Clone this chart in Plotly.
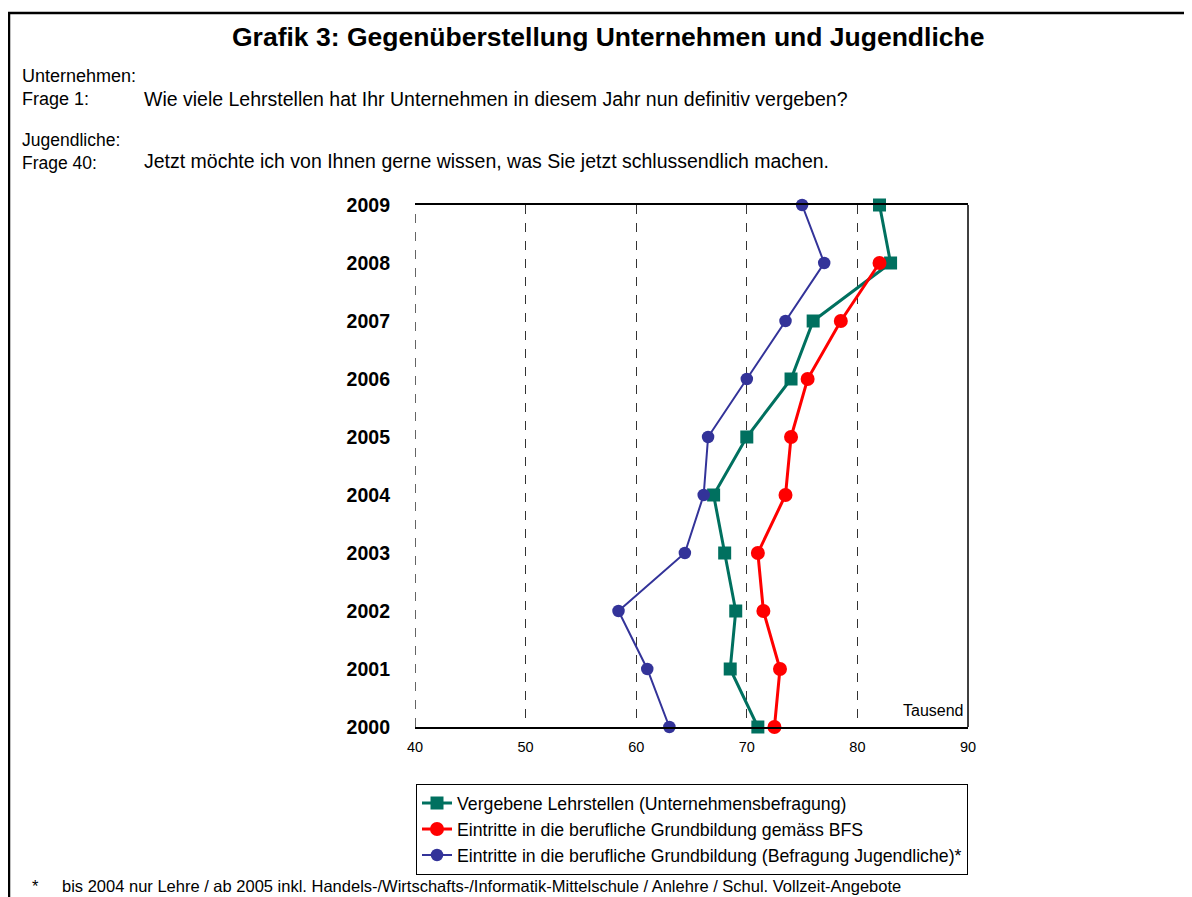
import plotly.graph_objects as go

# data (Tausend)
years = [2000, 2001, 2002, 2003, 2004, 2005, 2006, 2007, 2008, 2009]
lehrstellen_unternehmen = [71.0, 68.5, 69.0, 68.0, 67.0, 70.0, 74.0, 76.0, 83.0, 82.0]
eintritte_bfs = [72.5, 73.0, 71.5, 71.0, 73.5, 74.0, 75.5, 78.5, 82.0, None]
eintritte_jugendliche = [63.0, 61.0, 58.4, 64.4, 66.1, 66.5, 70.0, 73.5, 77.0, 75.0]
x_ticks = [40, 50, 60, 70, 80, 90]

FONT = "Arial, Liberation Sans, sans-serif"
OFF = 8  # page body margin
W, H = 1192 - OFF, 897 - OFF
L, R, T, B = 415, 968, 205, 727  # plot area in screen pixels


def px(x):
    return (x - L) / (R - L)


def py(y):
    return (B - y) / (B - T)


fig = go.Figure()
fig.add_trace(go.Scatter(
    x=lehrstellen_unternehmen, y=years, mode="lines+markers",
    name="Vergebene Lehrstellen (Unternehmensbefragung)",
    line=dict(color="#00705F", width=3),
    marker=dict(symbol="square", size=13, color="#00705F"),
    cliponaxis=False,
))
fig.add_trace(go.Scatter(
    x=eintritte_bfs, y=years, mode="lines+markers",
    name="Eintritte in die berufliche Grundbildung gemäss BFS",
    line=dict(color="#FF0000", width=3),
    marker=dict(symbol="circle", size=14, color="#FF0000"),
    cliponaxis=False,
))
fig.add_trace(go.Scatter(
    x=eintritte_jugendliche, y=years, mode="lines+markers",
    name="Eintritte in die berufliche Grundbildung (Befragung Jugendliche)*",
    line=dict(color="#333399", width=2),
    marker=dict(symbol="circle", size=12.5, color="#333399"),
    cliponaxis=False,
))

fig.update_xaxes(
    range=[40, 90], tickvals=x_ticks, showgrid=True, gridcolor="#333333",
    griddash="dash", gridwidth=1, showline=True, linecolor="black", linewidth=1.5,
    mirror=True, zeroline=False, ticks="", tickfont=dict(size=14.5, color="black"),
    ticklabelstandoff=6,
)
fig.update_yaxes(
    range=[2000, 2009], tickvals=years, showgrid=False, zeroline=False,
    showline=False, ticks="", ticklabelstandoff=24,
    tickfont=dict(size=19.5, color="black", family=FONT, weight="bold"),
)

# dashed grid line on the left edge (x = 40)
fig.add_shape(type="line", xref="x", yref="paper", x0=x_ticks[0], x1=x_ticks[0], y0=0, y1=1,
              line=dict(color="#333333", width=1.5, dash="dash"))
# right edge of the plot frame
fig.add_shape(type="line", xref="paper", yref="paper", x0=1, x1=1, y0=0, y1=1,
              line=dict(color="black", width=1.5))
# outer frame
fig.add_shape(type="rect", xref="paper", yref="paper",
              x0=px(9), x1=px(1300), y0=py(13), y1=py(1000),
              line=dict(color="black", width=2.5))

texts = [
    (608, 37, "<b>Grafik 3: Gegenüberstellung Unternehmen und Jugendliche</b>", 26.5, "center"),
    (20, 76, "Unternehmen:", 18, "left"),
    (20, 99, "Frage 1:", 18, "left"),
    (142, 99, "Wie viele Lehrstellen hat Ihr Unternehmen in diesem Jahr nun definitiv vergeben?", 19.5, "left"),
    (20, 151, "Jugendliche:<br>Frage 40:", 17.5, "left"),
    (142, 161, "Jetzt möchte ich von Ihnen gerne wissen, was Sie jetzt schlussendlich machen.", 19.5, "left"),
    (966, 710, "Tausend", 16, "right"),
    (30, 886, "*", 16.5, "left"),
    (60, 886, "bis 2004 nur Lehre / ab 2005 inkl. Handels-/Wirtschafts-/Informatik-Mittelschule / Anlehre / Schul. Vollzeit-Angebote", 16.5, "left"),
]
for x, y, t, s, anchor in texts:
    fig.add_annotation(
        x=px(x), y=py(y), xref="paper", yref="paper", text=t, showarrow=False,
        xanchor=anchor, yanchor="middle", align="left",
        font=dict(size=s, color="black", family=FONT),
    )

fig.update_layout(
    width=W, height=H,
    margin=dict(l=L - OFF, r=1192 - R, t=T - OFF, b=897 - B),
    paper_bgcolor="white", plot_bgcolor="white",
    font=dict(family=FONT, color="black"),
    showlegend=True,
    legend=dict(
        x=px(416), y=py(784), xanchor="left", yanchor="top",
        bordercolor="black", borderwidth=1, bgcolor="white",
        font=dict(size=17.7, color="black", family=FONT),
        tracegroupgap=0,
    ),
)

fig.write_html("out.html")
